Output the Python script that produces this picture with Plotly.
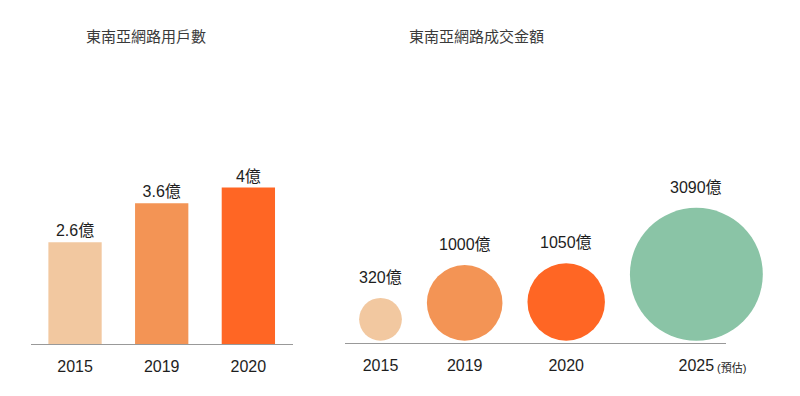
import numpy as np
import plotly.graph_objects as go

# ---- data ----
users_years = ["2015", "2019", "2020"]
users_values = [2.6, 3.6, 4.0]
users_labels = ["2.6億", "3.6億", "4億"]

gmv_years = ["2015", "2019", "2020", "2025"]
gmv_values = [320, 1000, 1050, 3090]
gmv_labels = ["320億", "1000億", "1050億", "3090億"]
gmv_note = "(預估)"

title_left = "東南亞網路用戶數"
title_right = "東南亞網路成交金額"

# ---- styles ----
users_colors = ["#F2C8A0", "#F39455", "#FF6624"]
gmv_colors = ["#F2C8A0", "#F39455", "#FF6624", "#8AC4A6"]
FONT = "Liberation Sans, Arial, Noto Sans CJK TC, sans-serif"
W, H = 800, 396

# left panel geometry (pixels)
L_x0, L_x1, L_base = 31, 293, 344
px_per_unit = 39.1
# right panel geometry (pixels)
R_x0, R_x1, R_base = 345, 725.7, 342.7
sizeref = 0.35
gap = 25
first_center = 380.5

# plotly area mode: diameter = sqrt(2 * v / sizeref)
diam = np.sqrt(2 * np.array(gmv_values) / sizeref)
rad = diam / 2
cx = [first_center]
for i in range(1, len(gmv_values)):
    cx.append(cx[-1] + rad[i - 1] + rad[i] + gap)
cx = np.array(cx)
cy = rad + 2

fig = go.Figure()

fig.add_trace(go.Bar(
    x=list(range(len(users_years))), y=users_values,
    marker=dict(color=users_colors, line=dict(width=0)),
    width=0.615, text=users_labels, textposition="outside",
    textfont=dict(size=16, color="#1e1e1e", family=FONT),
    cliponaxis=False, xaxis="x", yaxis="y", hoverinfo="skip",
))

fig.add_trace(go.Scatter(
    x=cx, y=cy, mode="markers",
    marker=dict(size=gmv_values, sizemode="area", sizeref=sizeref,
                color=gmv_colors, opacity=1, line=dict(width=0)),
    cliponaxis=False, xaxis="x2", yaxis="y2", hoverinfo="skip",
))

annotations = []
for i, lab in enumerate(gmv_labels):
    annotations.append(dict(
        x=cx[i], y=cy[i] + rad[i], xref="x2", yref="y2",
        text=lab, showarrow=False, yanchor="bottom", yshift=10,
        font=dict(size=16, color="#1e1e1e", family=FONT)))
annotations.append(dict(
    x=cx[-1], y=0, xref="x2", yref="y2", text=gmv_note, showarrow=False,
    xanchor="left", yanchor="middle", xshift=19, yshift=-25,
    font=dict(size=11, color="#1e1e1e", family=FONT)))
annotations.append(dict(
    x=146 / W, y=(H - 36) / H, xref="paper", yref="paper", text=title_left,
    xanchor="center", yanchor="middle",
    showarrow=False, font=dict(size=15, color="#3a3a3a", family=FONT)))
annotations.append(dict(
    x=477 / W, y=(H - 36) / H, xref="paper", yref="paper", text=title_right,
    xanchor="center", yanchor="middle",
    showarrow=False, font=dict(size=15, color="#3a3a3a", family=FONT)))

tickfont = dict(size=16, color="#1e1e1e", family=FONT)
fig.update_layout(
    width=W, height=H, margin=dict(l=0, r=0, t=0, b=0),
    paper_bgcolor="white", plot_bgcolor="white", showlegend=False,
    font=dict(family=FONT),
    xaxis=dict(domain=[L_x0 / W, L_x1 / W], range=[-0.508, 2.515],
               tickvals=list(range(len(users_years))), ticktext=users_years,
               showgrid=False, zeroline=False, showline=True,
               linecolor="#999", linewidth=1, ticks="outside", ticklen=8,
               tickcolor="rgba(0,0,0,0)", tickfont=tickfont, fixedrange=True),
    yaxis=dict(domain=[(H - L_base) / H, 1], range=[0, L_base / px_per_unit],
               visible=False, fixedrange=True),
    xaxis2=dict(domain=[R_x0 / W, R_x1 / W], range=[R_x0, R_x1], anchor="y2",
                tickvals=list(cx), ticktext=gmv_years,
                showgrid=False, zeroline=False, showline=True,
                linecolor="#999", linewidth=1, ticks="outside", ticklen=8,
                tickcolor="rgba(0,0,0,0)", tickfont=tickfont, fixedrange=True),
    yaxis2=dict(domain=[(H - R_base) / H, 1], range=[0, R_base], anchor="x2",
                visible=False, fixedrange=True),
    annotations=annotations,
)

fig.write_html("out.html", config={"displayModeBar": False},
               post_script="document.body.style.margin='0';document.body.style.overflow='hidden';")
